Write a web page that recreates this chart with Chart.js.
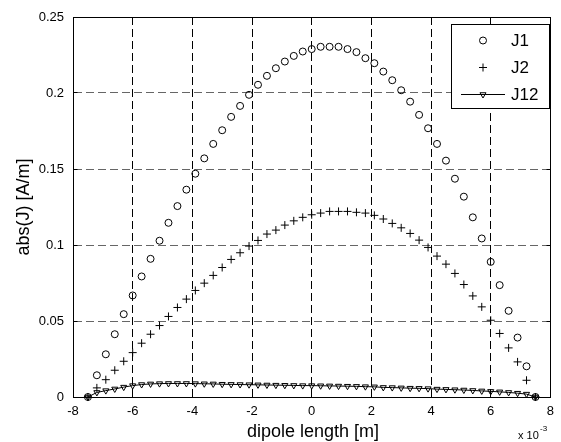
<!DOCTYPE html>
<html>
<head>
<meta charset="utf-8">
<script src="https://cdn.jsdelivr.net/npm/chart.js@4.4.0/dist/chart.umd.min.js"></script>
<style>
  html, body { margin: 0; padding: 0; background: #fff; }
</style>
</head>
<body>
<canvas id="currentChart" width="561" height="442"></canvas>
<script>
// dipole position, in units of 1e-3 m
const dipoleX = [
  -7.5, -7.2, -6.9, -6.6, -6.3, -6.0, -5.7, -5.4, -5.1, -4.8,
  -4.5, -4.2, -3.9, -3.6, -3.3, -3.0, -2.7, -2.4, -2.1, -1.8,
  -1.5, -1.2, -0.9, -0.6, -0.3, 0.0, 0.3, 0.6, 0.9, 1.2,
  1.5, 1.8, 2.1, 2.4, 2.7, 3.0, 3.3, 3.6, 3.9, 4.2,
  4.5, 4.8, 5.1, 5.4, 5.7, 6.0, 6.3, 6.6, 6.9, 7.2,
  7.5,
];
const j1 = [
  0, 0.0143, 0.0281, 0.0413, 0.0545, 0.0668, 0.0793, 0.0909, 0.1028, 0.1146,
  0.1256, 0.1364, 0.1469, 0.157, 0.1665, 0.1755, 0.1843, 0.1915, 0.1988, 0.2054,
  0.2113, 0.2163, 0.2207, 0.2244, 0.2273, 0.2289, 0.2304, 0.2304, 0.2304, 0.2289,
  0.2269, 0.2229, 0.2196, 0.2141, 0.2084, 0.2018, 0.1943, 0.1856, 0.1768, 0.1665,
  0.1555, 0.1436, 0.1318, 0.1182, 0.1043, 0.0889, 0.0736, 0.0567, 0.0391, 0.0202,
  0,
];
const j2 = [
  0, 0.006, 0.0114, 0.0176, 0.0235, 0.0292, 0.0354, 0.0413, 0.047, 0.053,
  0.0589, 0.0644, 0.0701, 0.0749, 0.08, 0.0852, 0.0905, 0.0949, 0.0993, 0.103,
  0.1072, 0.1098, 0.1131, 0.1159, 0.1182, 0.1199, 0.121, 0.1221, 0.1221, 0.1221,
  0.1215, 0.121, 0.1195, 0.1171, 0.1142, 0.1113, 0.1076, 0.1032, 0.0984, 0.0927,
  0.0874, 0.0813, 0.074, 0.0665, 0.0593, 0.0505, 0.0418, 0.0323, 0.0231, 0.011,
  0,
];
const j12 = [
  0, 0.003, 0.0042, 0.0053, 0.0065, 0.0075, 0.0082, 0.0086, 0.0088, 0.0089,
  0.0089, 0.0089, 0.0088, 0.0087, 0.0086, 0.0084, 0.0083, 0.0082, 0.0081, 0.008,
  0.0079, 0.0078, 0.0077, 0.0076, 0.0075, 0.0075, 0.0074, 0.0073, 0.0072, 0.0071,
  0.007, 0.0068, 0.0067, 0.0063, 0.0062, 0.006, 0.0058, 0.0057, 0.0055, 0.0052,
  0.005, 0.0048, 0.0046, 0.0043, 0.004, 0.0037, 0.0034, 0.003, 0.0025, 0.0019,
  0,
];
const seriesNames = ["J1", "J2", "J12"];
const xTicks = [-8, -6, -4, -2, 0, 2, 4, 6, 8];
const yTicks = [0, 0.05, 0.1, 0.15, 0.2, 0.25];

const FONT = "'Liberation Sans', Arial, Helvetica, sans-serif";

function toPoints(ys) {
  return dipoleX.map((x, i) => ({ x: x, y: ys[i] }));
}

function align(v) {
  return Math.round(v - 0.5) + 0.5;
}

// marker styles shared by plot and legend
const markers = [
  { pointStyle: "circle", radius: 3.5, rotation: 0 },
  { pointStyle: "cross", radius: 4, rotation: 0 },
  { pointStyle: "triangle", radius: 3.5, rotation: 180 },
];

// box, inward ticks, legend, axis texts (MATLAB look)
const matlabFrame = {
  id: "matlabFrame",
  afterDatasetsDraw(chart) {
    const { ctx, chartArea: a, scales } = chart;
    const L = align(a.left), R = align(a.right);
    const T = align(a.top), B = align(a.bottom);
    ctx.save();
    ctx.strokeStyle = "#000";
    ctx.lineWidth = 1;
    ctx.setLineDash([]);
    ctx.strokeRect(L, T, R - L, B - T);

    ctx.beginPath();
    xTicks.forEach((v) => {
      const px = align(scales.x.getPixelForValue(v));
      ctx.moveTo(px, B); ctx.lineTo(px, B - 4);
      ctx.moveTo(px, T); ctx.lineTo(px, T + 4);
    });
    yTicks.forEach((v) => {
      const py = align(scales.y.getPixelForValue(v));
      ctx.moveTo(L, py); ctx.lineTo(L + 4, py);
      ctx.moveTo(R, py); ctx.lineTo(R - 4, py);
    });
    ctx.stroke();

    // legend
    const box = { x: 451.5, y: 24.5, w: 98, h: 84 };
    ctx.fillStyle = "#fff";
    ctx.fillRect(box.x, box.y, box.w, box.h);
    ctx.strokeRect(box.x, box.y, box.w, box.h);
    const rowY = [40.5, 67.5, 94.5];
    seriesNames.forEach((name, i) => {
      const cy = rowY[i];
      if (i === 2) {
        ctx.beginPath();
        ctx.moveTo(461, cy); ctx.lineTo(505, cy);
        ctx.stroke();
      }
      ctx.fillStyle = "rgba(0,0,0,0)";
      Chart.helpers.drawPoint(ctx, {
        pointStyle: markers[i].pointStyle,
        radius: markers[i].radius,
        rotation: markers[i].rotation,
        borderWidth: 1,
      }, 483, cy);
      ctx.fillStyle = "#000";
      ctx.font = "17px " + FONT;
      ctx.textAlign = "left";
      ctx.textBaseline = "middle";
      ctx.fillText(name, 511, cy + 1);
    });

    // axis titles
    ctx.fillStyle = "#000";
    ctx.font = "18px " + FONT;
    ctx.textAlign = "center";
    ctx.textBaseline = "middle";
    ctx.fillText("dipole length [m]", 313, 432);
    ctx.save();
    ctx.translate(24, 207);
    ctx.rotate(-Math.PI / 2);
    ctx.fillText("abs(J) [A/m]", 0, 0);
    ctx.restore();

    // exponent note
    ctx.textAlign = "left";
    ctx.font = "11px " + FONT;
    ctx.fillText("x 10", 518, 436);
    ctx.font = "8px " + FONT;
    ctx.fillText("-3", 540, 429);
    ctx.restore();
  },
};

const ctx = document.getElementById("currentChart").getContext("2d");
new Chart(ctx, {
  type: "scatter",
  data: {
    datasets: [
      {
        label: seriesNames[0],
        data: toPoints(j1),
        showLine: false,
        pointStyle: markers[0].pointStyle,
        pointRadius: markers[0].radius,
        pointBorderWidth: 1,
        borderColor: "#000",
        backgroundColor: "rgba(0,0,0,0)",
        clip: false,
      },
      {
        label: seriesNames[1],
        data: toPoints(j2),
        showLine: false,
        pointStyle: markers[1].pointStyle,
        pointRadius: markers[1].radius,
        pointBorderWidth: 1,
        borderColor: "#000",
        backgroundColor: "rgba(0,0,0,0)",
        clip: false,
      },
      {
        label: seriesNames[2],
        data: toPoints(j12),
        showLine: true,
        borderWidth: 1,
        pointStyle: markers[2].pointStyle,
        pointRotation: markers[2].rotation,
        pointRadius: markers[2].radius,
        pointBorderWidth: 1,
        borderColor: "#000",
        backgroundColor: "rgba(0,0,0,0)",
        clip: false,
      },
    ],
  },
  options: {
    responsive: false,
    animation: false,
    layout: { padding: { top: 17, right: 8, left: 0, bottom: 0 } },
    scales: {
      x: {
        type: "linear",
        min: -8,
        max: 8,
        afterBuildTicks: (s) => { s.ticks = xTicks.map((v) => ({ value: v })); },
        afterFit: (s) => { s.height = 45; },
        grid: { color: "#000", lineWidth: 1, drawTicks: false },
        border: { display: true, color: "#000", width: 1, dash: [8, 4] },
        ticks: {
          color: "#000",
          padding: 7,
          maxRotation: 0,
          font: { family: FONT, size: 13 },
          callback: (v) => String(v),
        },
      },
      y: {
        min: 0,
        max: 0.25,
        afterBuildTicks: (s) => { s.ticks = yTicks.map((v) => ({ value: v })); },
        afterFit: (s) => { s.width = 73; },
        grid: { color: "#666", lineWidth: 1, drawTicks: false },
        border: { display: true, color: "#000", width: 1, dash: [8, 4] },
        ticks: {
          color: "#000",
          padding: 9,
          font: { family: FONT, size: 13 },
          callback: (v) => String(+v.toFixed(2)),
        },
      },
    },
    plugins: {
      legend: { display: false },
      tooltip: { enabled: false },
    },
  },
  plugins: [matlabFrame],
});
</script>
</body>
</html>
